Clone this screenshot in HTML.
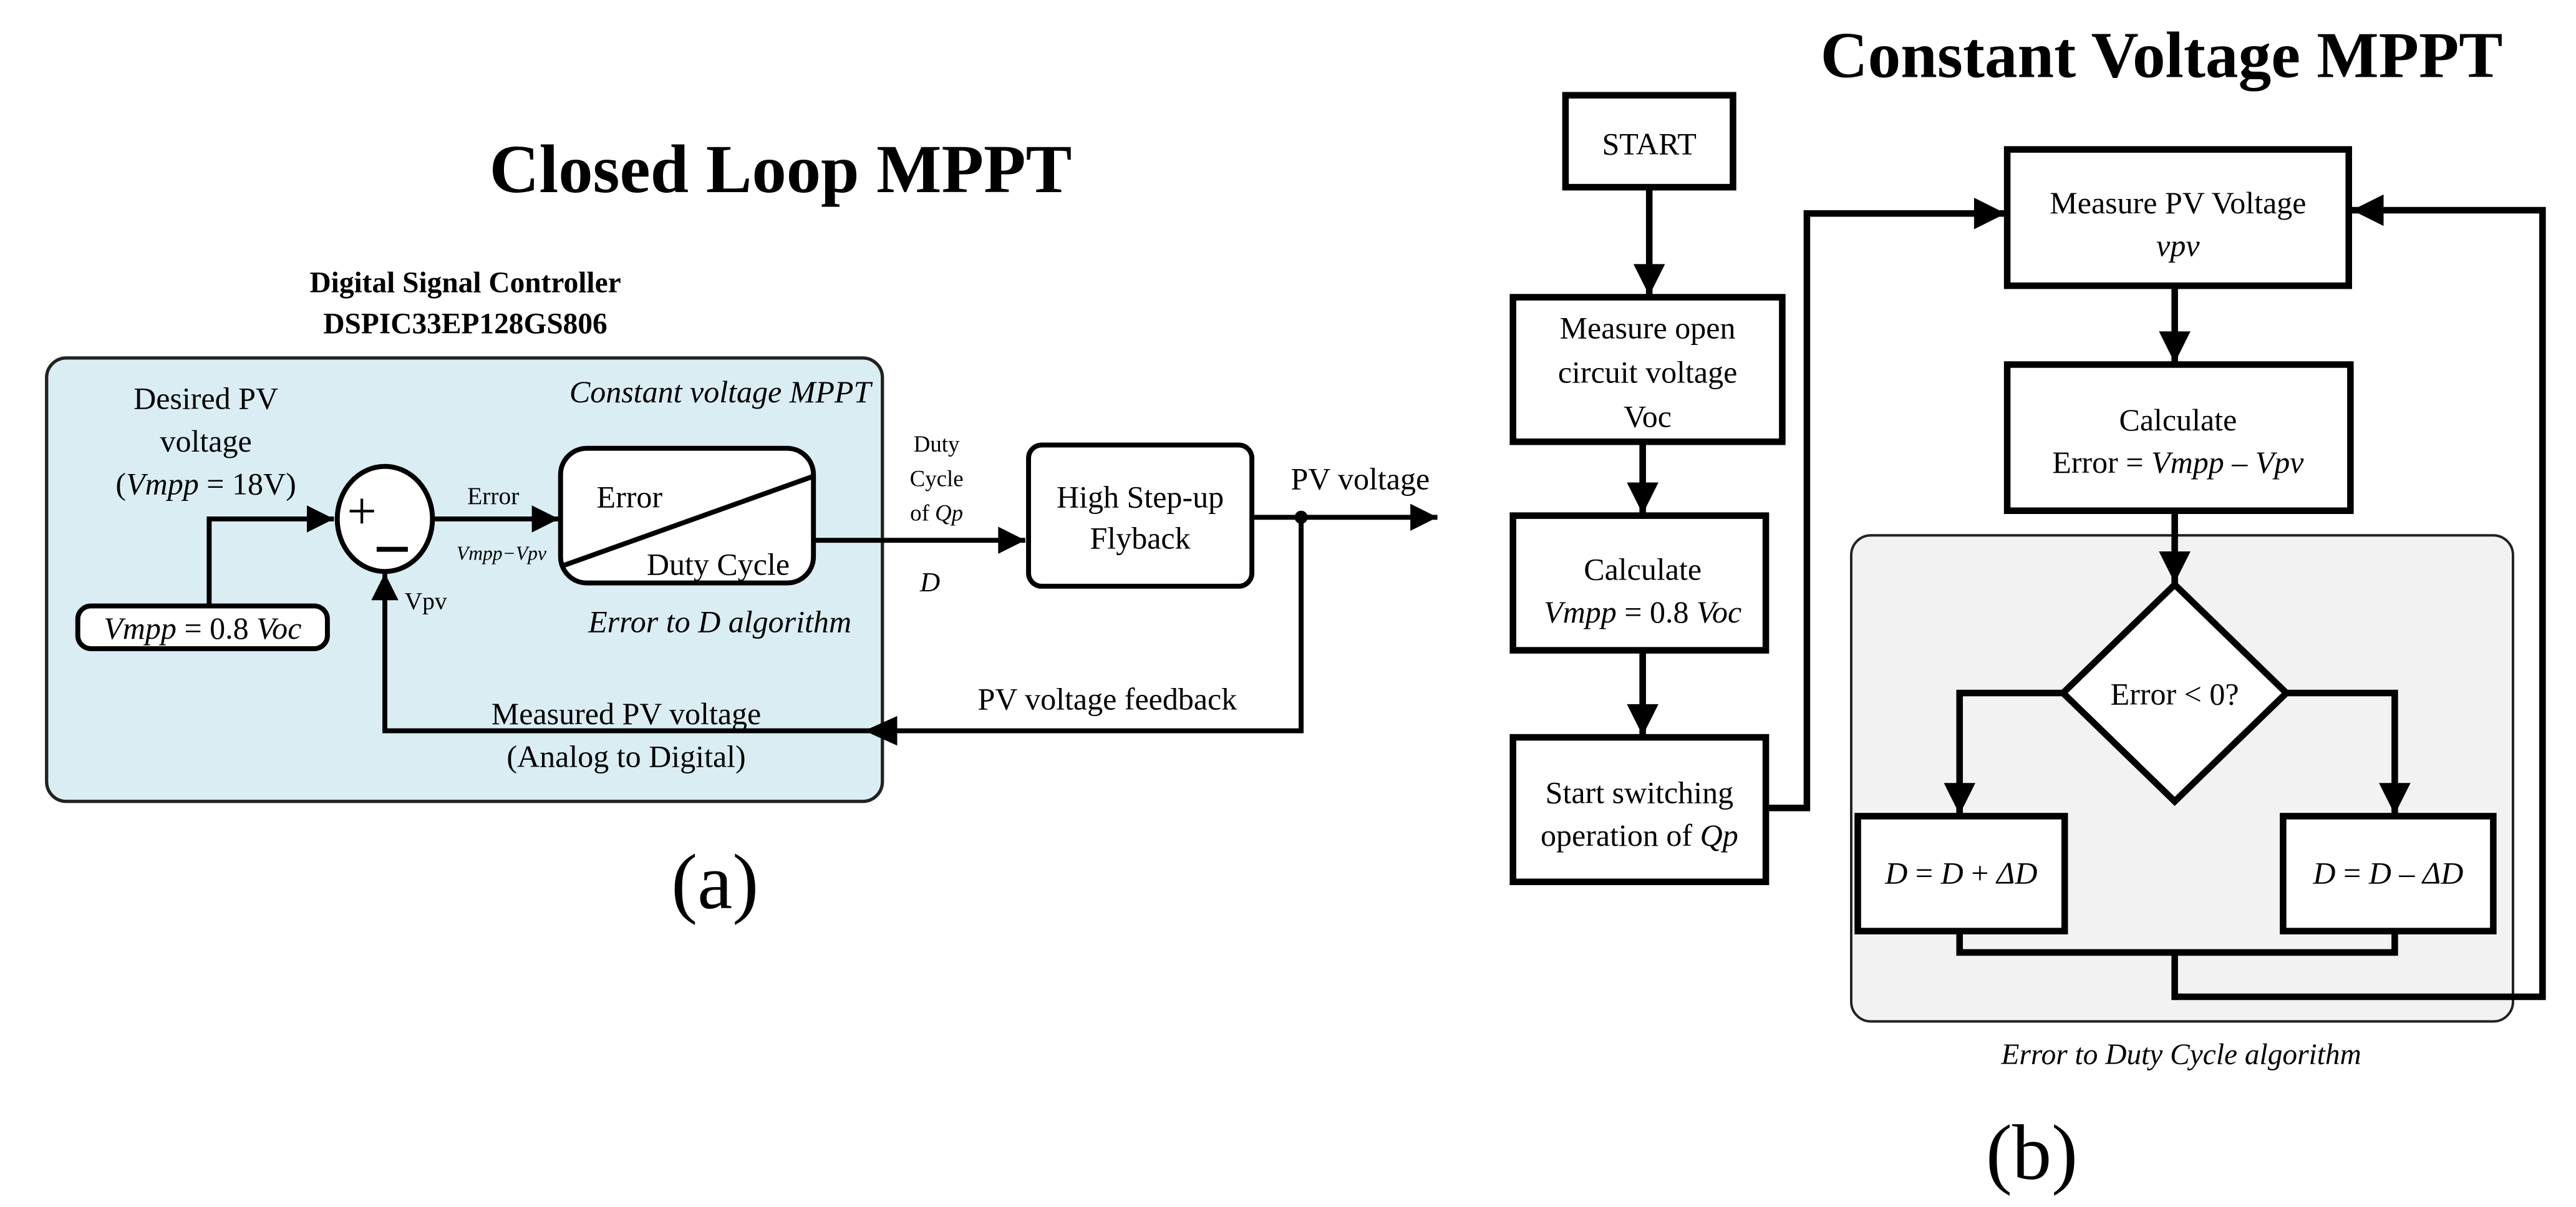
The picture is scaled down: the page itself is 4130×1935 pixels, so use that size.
<!DOCTYPE html>
<html><head><meta charset="utf-8"><style>
html,body{margin:0;padding:0;background:#fff}
svg{display:block}
text{font-family:"Liberation Serif",serif;fill:#000}
</style></head><body>
<svg width="4130" height="1935" viewBox="0 0 1568 735" xmlns="http://www.w3.org/2000/svg">
<defs>
<marker id="a" viewBox="0 0 10 10" refX="10" refY="5" markerWidth="6.5" markerHeight="5.5" markerUnits="strokeWidth" orient="auto"><path d="M0,0L10,5L0,10z" fill="#000"/></marker>
<marker id="b" viewBox="0 0 10 10" refX="10" refY="5" markerWidth="5.5" markerHeight="4.8" markerUnits="strokeWidth" orient="auto"><path d="M0,0L10,5L0,10z" fill="#000"/></marker>
</defs>
<!-- LEFT -->
<text x="475" y="117" font-size="42" font-weight="bold" text-anchor="middle">Closed Loop MPPT</text>
<text x="283" y="178" font-size="18" font-weight="bold" text-anchor="middle">Digital Signal Controller</text>
<text x="283" y="203" font-size="18" font-weight="bold" text-anchor="middle">DSPIC33EP128GS806</text>
<rect x="28" y="218" width="509" height="270" rx="12" fill="#daedf3" stroke="#222" stroke-width="2"/>
<text x="530" y="245" font-size="19" font-style="italic" text-anchor="end">Constant voltage MPPT</text>
<text x="125" y="249" font-size="19" text-anchor="middle">Desired PV</text>
<text x="125" y="275" font-size="19" text-anchor="middle">voltage</text>
<text x="125" y="301" font-size="19" text-anchor="middle">(<tspan font-style="italic">Vmpp</tspan> = 18V)</text>
<ellipse cx="234" cy="316" rx="29" ry="32" fill="#fff" stroke="#000" stroke-width="3"/>
<text x="220" y="322" font-size="32" text-anchor="middle">+</text>
<rect x="229" y="333" width="19" height="3" fill="#000"/>
<polyline points="127,369 127,316 203,316" fill="none" stroke="#000" stroke-width="3" marker-end="url(#a)"/>
<rect x="47" y="369" width="152" height="26" rx="8" fill="#fff" stroke="#000" stroke-width="3"/>
<text x="123" y="389" font-size="19" font-style="italic" text-anchor="middle">Vmpp <tspan font-style="normal">= 0.8</tspan> Voc</text>
<line x1="264" y1="316" x2="340" y2="316" stroke="#000" stroke-width="3" marker-end="url(#a)"/>
<text x="300" y="307" font-size="15" text-anchor="middle">Error</text>
<text x="305" y="341" font-size="12" font-style="italic" text-anchor="middle">Vmpp−Vpv</text>
<text x="246" y="371" font-size="15">Vpv</text>
<rect x="341" y="273" width="154" height="82" rx="16" fill="#fff" stroke="#000" stroke-width="3"/>
<line x1="341" y1="345" x2="495" y2="290" stroke="#000" stroke-width="3"/>
<text x="383" y="309" font-size="19" text-anchor="middle">Error</text>
<text x="437" y="350" font-size="19" text-anchor="middle">Duty Cycle</text>
<text x="438" y="385" font-size="19" font-style="italic" text-anchor="middle">Error to D algorithm</text>
<line x1="495" y1="329" x2="624" y2="329" stroke="#000" stroke-width="3" marker-end="url(#a)"/>
<text x="570" y="275" font-size="14" text-anchor="middle">Duty</text>
<text x="570" y="296" font-size="14" text-anchor="middle">Cycle</text>
<text x="570" y="317" font-size="14" text-anchor="middle">of <tspan font-style="italic">Qp</tspan></text>
<text x="566" y="360" font-size="17" font-style="italic" text-anchor="middle">D</text>
<rect x="626" y="271" width="136" height="86" rx="8" fill="#fff" stroke="#000" stroke-width="3"/>
<text x="694" y="309" font-size="19" text-anchor="middle">High Step-up</text>
<text x="694" y="334" font-size="19" text-anchor="middle">Flyback</text>
<line x1="762" y1="315" x2="875" y2="315" stroke="#000" stroke-width="3" marker-end="url(#a)"/>
<circle cx="792" cy="315" r="4" fill="#000"/>
<text x="828" y="298" font-size="19" text-anchor="middle">PV voltage</text>
<polyline points="792,315 792,445 234,445 234,349" fill="none" stroke="#000" stroke-width="3" marker-end="url(#a)"/>
<path d="M526,445L546,436L546,454z" fill="#000"/>
<text x="674" y="432" font-size="19" text-anchor="middle">PV voltage feedback</text>
<text x="381" y="441" font-size="19" text-anchor="middle">Measured PV voltage</text>
<text x="381" y="467" font-size="19" text-anchor="middle">(Analog to Digital)</text>
<text x="435" y="553" font-size="48" text-anchor="middle">(a)</text>
<!-- RIGHT -->
<text x="1316" y="47" font-size="40" font-weight="bold" text-anchor="middle">Constant Voltage MPPT</text>
<g fill="#fff" stroke="#000" stroke-width="4">
<rect x="953" y="58" width="102" height="56"/>
<rect x="921" y="181" width="164" height="88"/>
<rect x="921" y="314" width="154" height="82"/>
<rect x="921" y="449" width="154" height="88"/>
</g>
<rect x="1127" y="326" width="403" height="296" rx="12" fill="#f2f2f2" stroke="#222" stroke-width="1.5"/>
<g fill="#fff" stroke="#000" stroke-width="4">
<rect x="1222" y="91" width="208" height="83"/>
<rect x="1222" y="222" width="209" height="89"/>
<path d="M1324,356L1392,422L1324,488L1256,422z"/>
<rect x="1131" y="497" width="126" height="70"/>
<rect x="1390" y="497" width="128" height="70"/>
</g>
<g stroke="#000" stroke-width="4" fill="none">
<line x1="1004" y1="114" x2="1004" y2="180" marker-end="url(#b)"/>
<line x1="1000" y1="269" x2="1000" y2="313" marker-end="url(#b)"/>
<line x1="1000" y1="396" x2="1000" y2="448" marker-end="url(#b)"/>
<polyline points="1075,492 1100,492 1100,130 1221,130" marker-end="url(#b)"/>
<line x1="1324" y1="174" x2="1324" y2="221" marker-end="url(#b)"/>
<line x1="1324" y1="311" x2="1324" y2="355" marker-end="url(#b)"/>
<polyline points="1256,422 1193,422 1193,496" marker-end="url(#b)"/>
<polyline points="1392,422 1458,422 1458,496" marker-end="url(#b)"/>
<polyline points="1193,567 1193,580 1458,580 1458,567"/>
<polyline points="1324,580 1324,607 1548,607 1548,128 1432,128" marker-end="url(#b)"/>
</g>
<text x="1004" y="94" font-size="19" text-anchor="middle">START</text>
<text x="1003" y="206" font-size="19" text-anchor="middle">Measure open</text>
<text x="1003" y="233" font-size="19" text-anchor="middle">circuit voltage</text>
<text x="1003" y="260" font-size="19" text-anchor="middle">Voc</text>
<text x="1000" y="353" font-size="19" text-anchor="middle">Calculate</text>
<text x="1000" y="379" font-size="19" text-anchor="middle"><tspan font-style="italic">Vmpp</tspan> = 0.8 <tspan font-style="italic">Voc</tspan></text>
<text x="998" y="489" font-size="19" text-anchor="middle">Start switching</text>
<text x="998" y="515" font-size="19" text-anchor="middle">operation of <tspan font-style="italic">Qp</tspan></text>
<text x="1326" y="130" font-size="19" text-anchor="middle">Measure PV Voltage</text>
<text x="1326" y="156" font-size="19" font-style="italic" text-anchor="middle">vpv</text>
<text x="1326" y="262" font-size="19" text-anchor="middle">Calculate</text>
<text x="1326" y="288" font-size="19" text-anchor="middle">Error = <tspan font-style="italic">Vmpp</tspan> – <tspan font-style="italic">Vpv</tspan></text>
<text x="1324" y="429" font-size="19" text-anchor="middle">Error &lt; 0?</text>
<text x="1194" y="538" font-size="19" font-style="italic" text-anchor="middle">D <tspan font-style="normal">=</tspan> D <tspan font-style="normal">+</tspan> ΔD</text>
<text x="1454" y="538" font-size="19" font-style="italic" text-anchor="middle">D <tspan font-style="normal">=</tspan> D <tspan font-style="normal">–</tspan> ΔD</text>
<text x="1328" y="648" font-size="18" font-style="italic" text-anchor="middle">Error to Duty Cycle algorithm</text>
<text x="1237" y="718" font-size="48" text-anchor="middle">(b)</text>
</svg>
</body></html>
